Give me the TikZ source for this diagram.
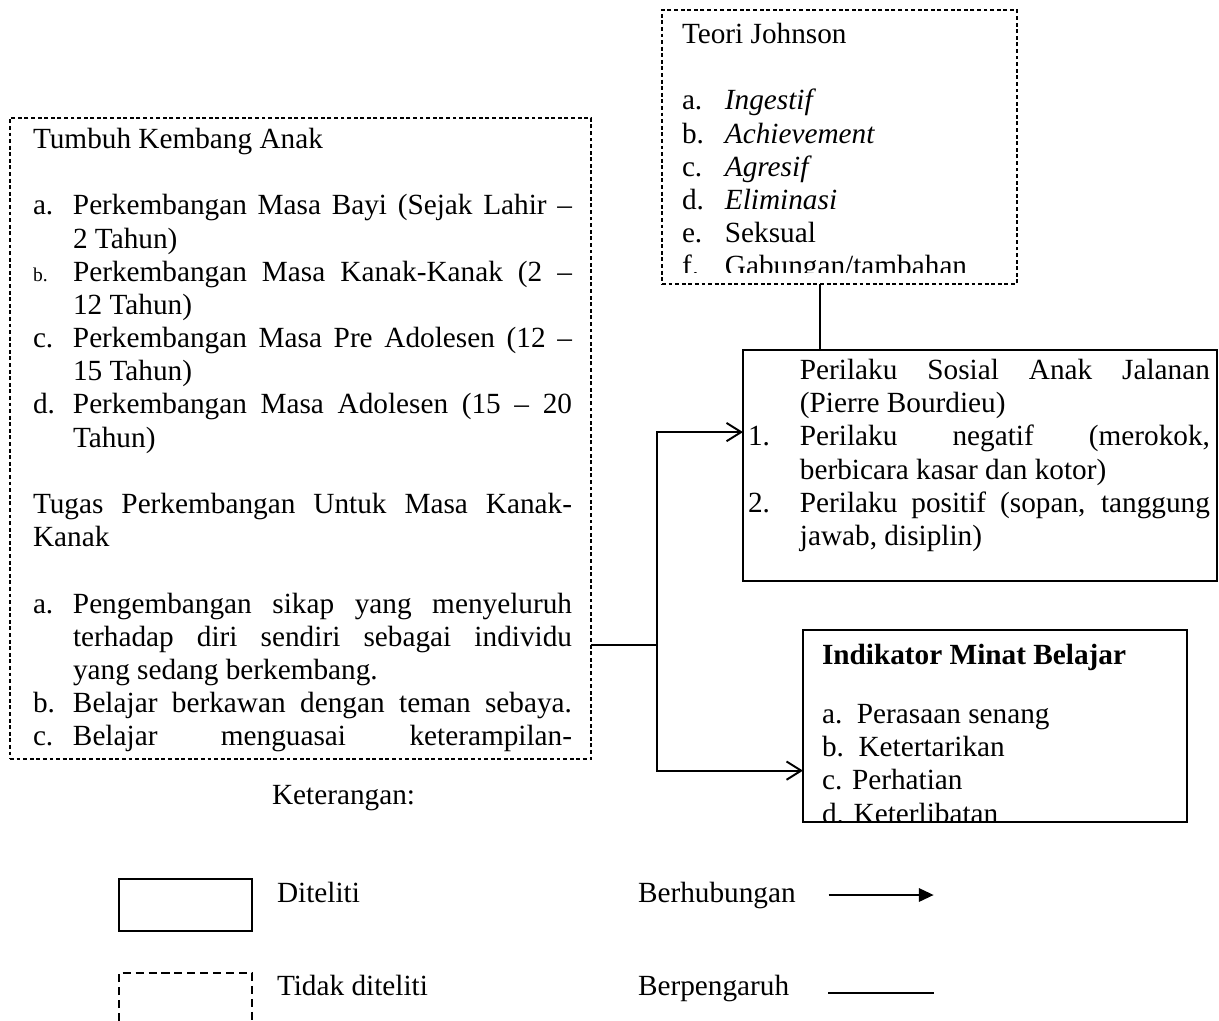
\documentclass[tikz,border=0pt]{standalone}
\usepackage{fontspec}
\setmainfont{Liberation Serif}
\usepackage{array}
\usetikzlibrary{arrows.meta}

\newcommand{\rata}[1]{\makebox[\linewidth][s]{#1}}

\begin{document}
\begin{tikzpicture}[x=0.41pt,y=-0.41pt,>={Straight Barb[length=6pt,width=7.5pt]},
                    line width=0.8pt,font=\fontsize{12}{13.6}\selectfont]
  \tikzstyle{every node}=[inner sep=0pt,outer sep=0pt]
  \tikzstyle{diteliti}=[draw=black,line width=0.5pt,anchor=north west]
  \tikzstyle{tidak}=[draw=black,line width=0.5pt,dash pattern=on 1.6pt off 1.1pt,anchor=north west]
  \tikzstyle{isi}=[anchor=north west,align=left]
  \tikzstyle{ket}=[anchor=base west]

  \useasboundingbox (0,0) rectangle (1219,1021);

  \node[tidak,minimum width=145.55pt,minimum height=112.34pt]   (J) at (662,10)  {};
  \node[tidak,minimum width=238.21pt,minimum height=262.81pt]   (L) at (10,118)  {};
  \node[diteliti,minimum width=194.34pt,minimum height=94.71pt] (P) at (743,350) {};
  \node[diteliti,minimum width=157.44pt,minimum height=78.72pt] (M) at (803,630) {};

  % Teori Johnson
  \begin{scope}
    \clip (J.north west) rectangle ([yshift=4.9pt]J.south east);
    \node[isi] (Jt) at (682,20.4) {\begin{tabular}{@{}p{17.6pt}@{}l@{}}
      \multicolumn{2}{@{}l@{}}{Teori Johnson}\\[13.6pt]
      a. & \textit{Ingestif}\\
      b. & \textit{Achievement}\\
      c. & \textit{Agresif}\\
      d. & \textit{Eliminasi}\\
      e. & Seksual\\
      f. & Gabungan/tambahan
    \end{tabular}};
  \end{scope}

  % Tumbuh Kembang Anak
  \begin{scope}
    \clip (L.north west) rectangle (L.south east);
    \node[isi] (Lt) at (33,125.4) {\begin{tabular}{@{}p{16.4pt}@{}p{204.6pt}@{}}
      \multicolumn{2}{@{}l@{}}{Tumbuh Kembang Anak}\\[13.6pt]
      a. & \rata{Perkembangan Masa Bayi (Sejak Lahir --}\\
         & 2 Tahun)\\
      {\footnotesize b.} & \rata{Perkembangan Masa Kanak-Kanak (2 --}\\
         & 12 Tahun)\\
      c. & \rata{Perkembangan Masa Pre Adolesen (12 --}\\
         & 15 Tahun)\\
      d. & \rata{Perkembangan Masa Adolesen (15 -- 20}\\
         & Tahun)\\[13.6pt]
      \multicolumn{2}{@{}p{221pt}@{}}{\rata{Tugas Perkembangan Untuk Masa Kanak-}}\\
      \multicolumn{2}{@{}l@{}}{Kanak}\\[13.6pt]
      a. & \rata{Pengembangan sikap yang menyeluruh}\\
         & \rata{terhadap diri sendiri sebagai individu}\\
         & yang sedang berkembang.\\
      b. & \rata{Belajar berkawan dengan teman sebaya.}\\
      c. & \rata{Belajar menguasai keterampilan-}
    \end{tabular}};
  \end{scope}

  % Perilaku Sosial
  \begin{scope}
    \clip (P.north west) rectangle (P.south east);
    \node[isi] (Pt) at (748,356.4) {\begin{tabular}{@{}p{21.3pt}@{}p{168.1pt}@{}}
         & \rata{Perilaku Sosial Anak Jalanan}\\
         & (Pierre Bourdieu)\\
      1. & \rata{Perilaku negatif (merokok,}\\
         & berbicara kasar dan kotor)\\
      2. & \rata{Perilaku positif (sopan, tanggung}\\
         & jawab, disiplin)
    \end{tabular}};
  \end{scope}

  % Indikator Minat Belajar
  \begin{scope}
    \clip (M.north west) rectangle (M.south east);
    \node[isi] (Mt) at (822,641.4) {\begin{tabular}{@{}l@{}}
      \textbf{Indikator Minat Belajar}\\[10.6pt]
      a.\ \ Perasaan senang\\
      b.\ \ Ketertarikan\\
      c. Perhatian\\
      d. Keterlibatan
    \end{tabular}};
  \end{scope}

  \coordinate (k) at (820,0);
  \coordinate (b) at (657,645);
  \draw (J.south -| k) -- (P.north -| k);
  \draw (L.east |- b) -- (b);
  \draw[->] (b) |- ([yshift=13.7pt]P.west);
  \draw[->] (b) |- ([yshift=-18.3pt]M.west);

  % Keterangan
  \node[ket] (K) at (272,804) {Keterangan:};
  \node[diteliti,minimum width=54.53pt,minimum height=21.32pt] (D) at (119,879) {};
  \node[ket] (Dt) at (277,902) {Diteliti};
  \draw[line width=0.5pt,dash pattern=on 3.3pt off 2pt] (119,1021) -- (119,973) -- (252,973) -- (252,1021);
  \node[ket] (Tt) at (277,995) {Tidak diteliti};
  \node[ket] (H) at (638,902) {Berhubungan};
  \draw[line width=0.7pt,-{Triangle[length=6pt,width=5.5pt]}] ([xshift=13.5pt]H.east) -- ++(105,0);
  \node[ket] (G) at (638,995) {Berpengaruh};
  \draw[line width=0.7pt] ([xshift=16pt,yshift=-2pt]G.east) -- ++(106,0);
\end{tikzpicture}
\end{document}
